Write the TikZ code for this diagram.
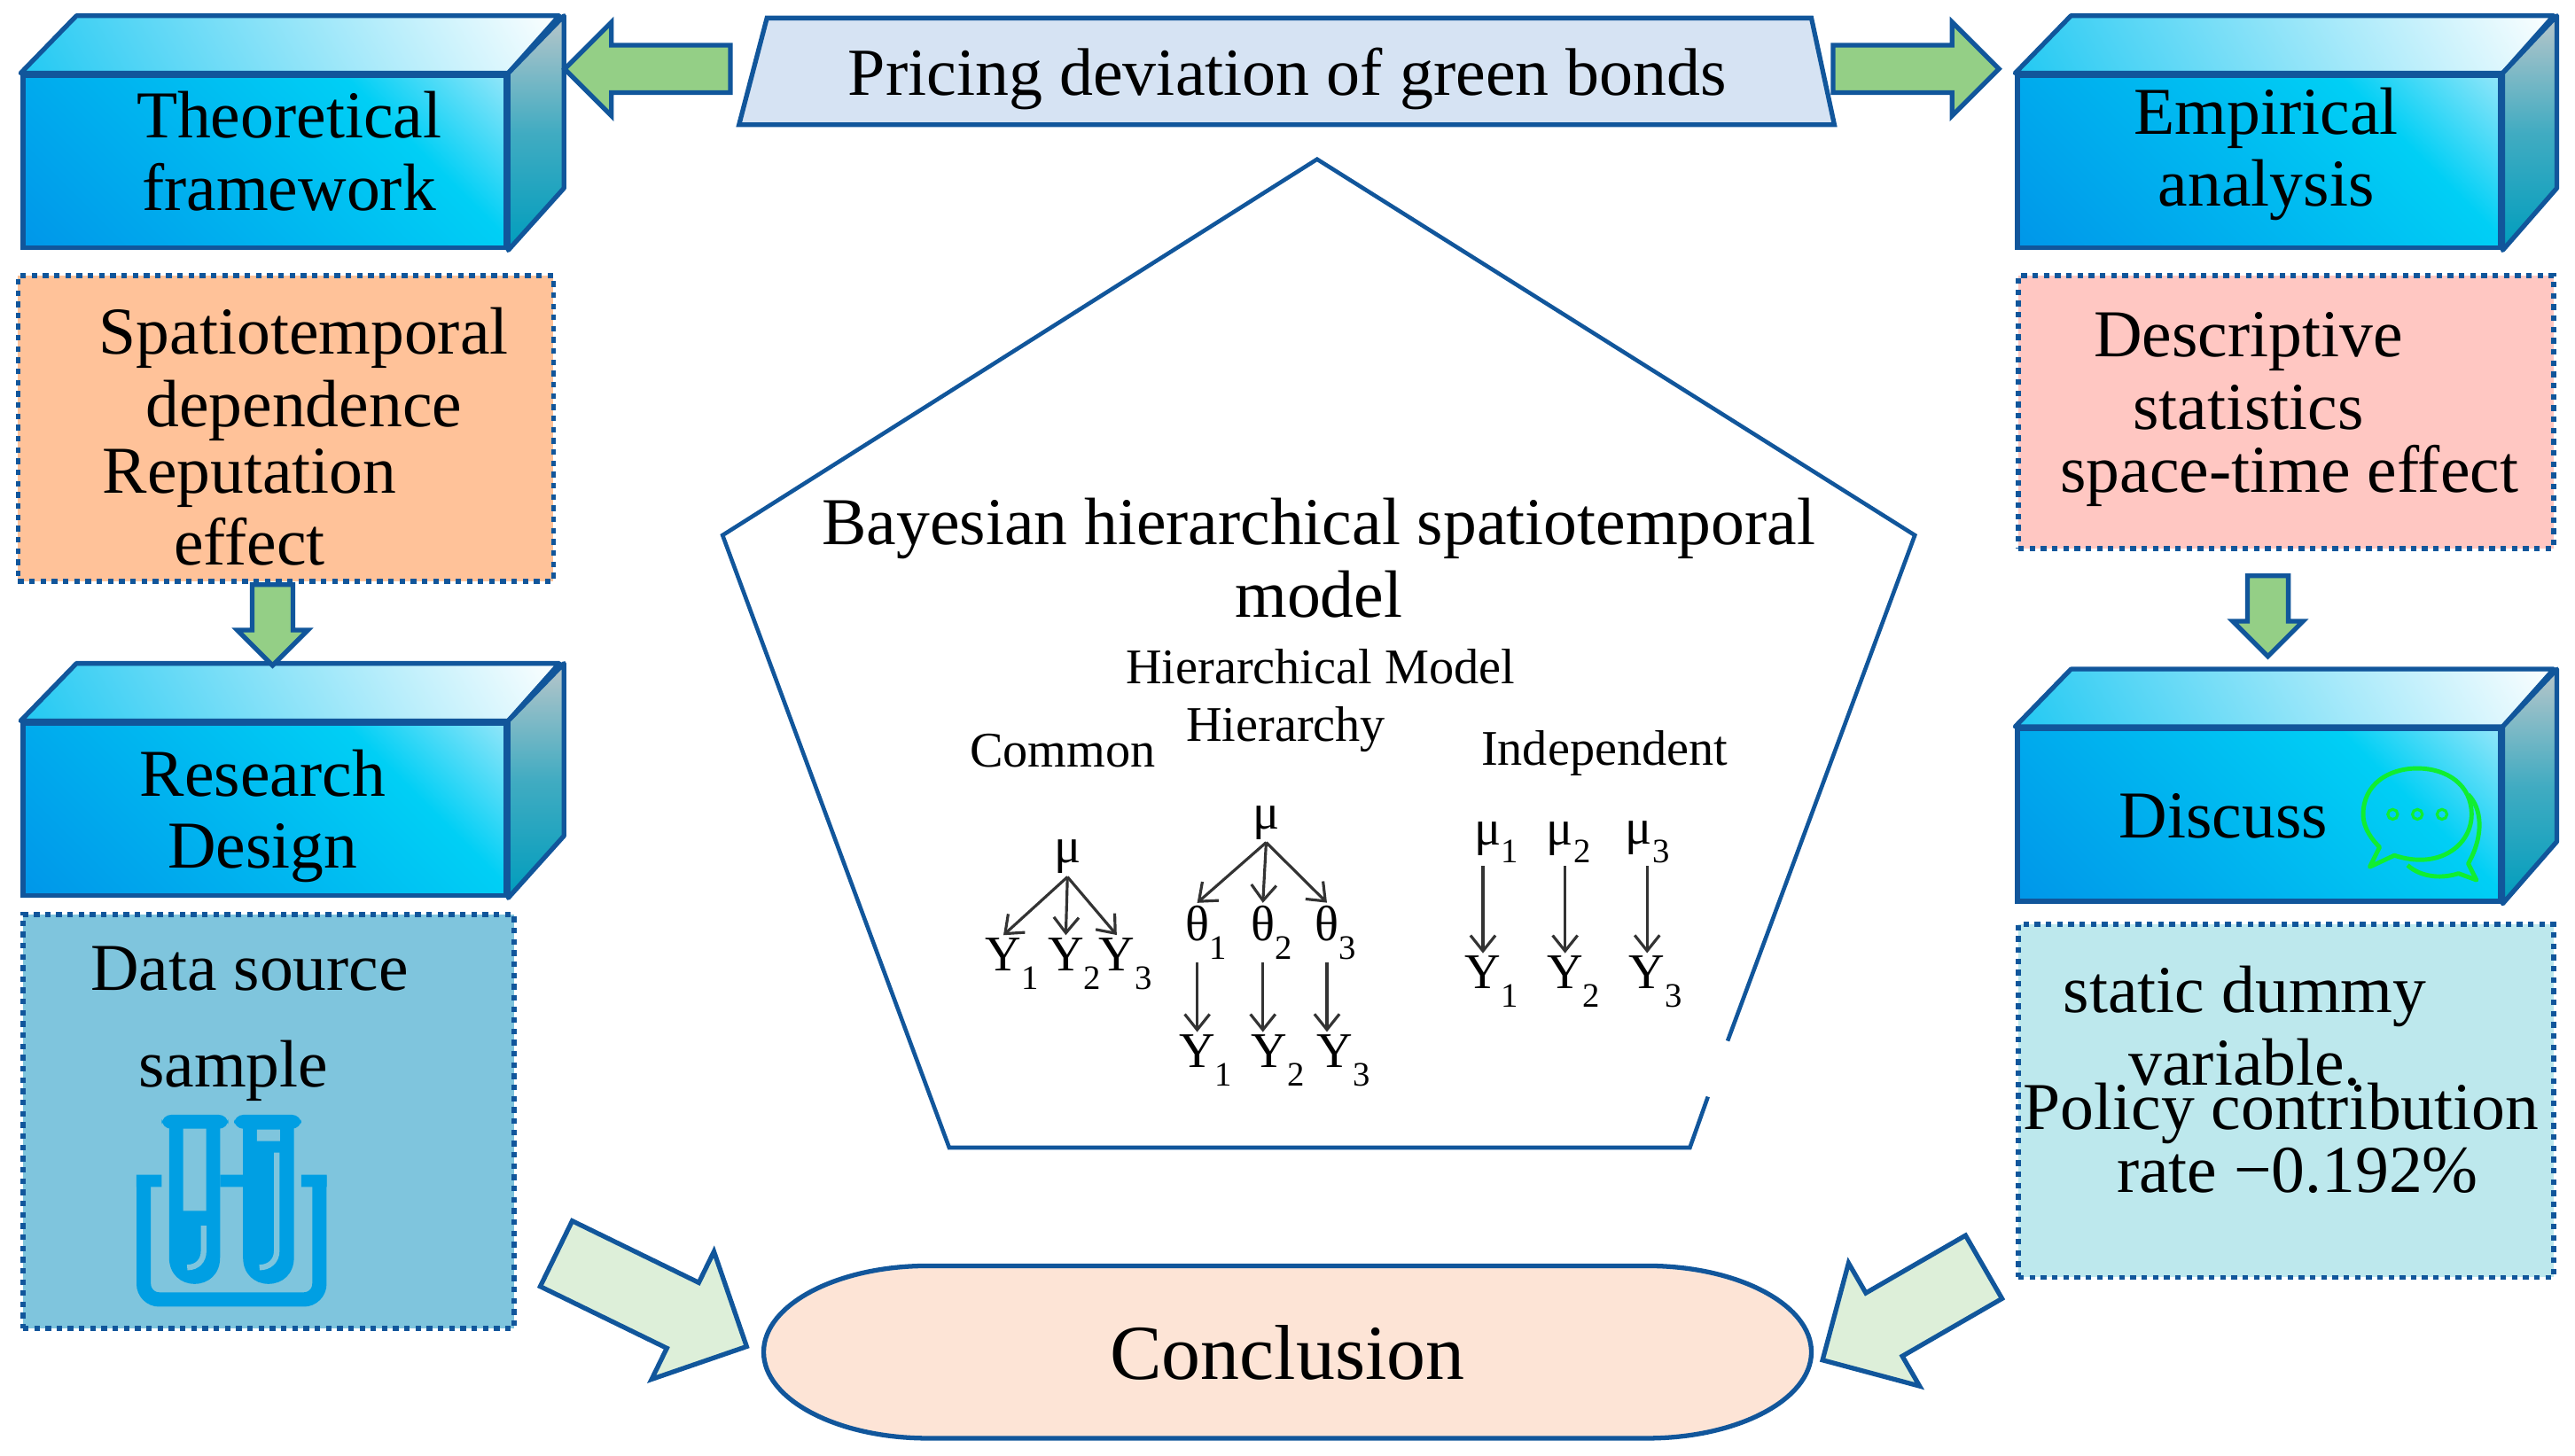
\documentclass[tikz,border=0pt]{standalone}
\usepackage{fontspec}
\setmainfont{Liberation Serif}
\usepackage{tikz}
\usetikzlibrary{arrows.meta,shapes.arrows,positioning,calc}

\definecolor{boxblue}{HTML}{11569B}
\definecolor{arrowgreen}{HTML}{94CF86}
\definecolor{palegreen}{HTML}{DDEFD9}
\definecolor{tubeblue}{HTML}{009FE3}
\definecolor{chatgreen}{HTML}{10EE30}
\definecolor{peach}{HTML}{FFC299}
\definecolor{rosy}{HTML}{FFC7C2}
\definecolor{steelpanel}{HTML}{7FC5DD}
\definecolor{aquapanel}{HTML}{BDE8ED}
\definecolor{bannerfill}{HTML}{D6E3F3}
\definecolor{concfill}{HTML}{FDE4D6}
\definecolor{frontA}{HTML}{0097E9}
\definecolor{frontB}{HTML}{00CFF5}
\definecolor{frontC}{HTML}{C8EEFB}
\definecolor{topA}{HTML}{1FC8F2}
\definecolor{sideA}{HTML}{B8C6CA}
\definecolor{sideB}{HTML}{009DBD}

\pgfdeclarehorizontalshading{frontfill}{100bp}{color(0bp)=(frontA); color(15bp)=(frontA); color(68bp)=(frontB); color(92bp)=(frontC); color(100bp)=(frontC)}
\pgfdeclarehorizontalshading{topfill}{100bp}{color(0bp)=(topA); color(15bp)=(topA); color(85bp)=(white); color(100bp)=(white)}

\newcommand{\subs}[2]{#1\rlap{\raisebox{-0.8ex}{\fontsize{11}{11}\selectfont #2}}}

\begin{document}
\begin{tikzpicture}[
    x=0.018527cm, y=-0.018527cm,
    frontface/.style={draw=boxblue, line width=1.5pt, shading=frontfill, shading angle=45, minimum width=5.447cm, minimum height=1.945cm, inner sep=0pt},
    topface/.style={draw=boxblue, line width=1.5pt, shading=topfill, shading angle=30, line join=round},
    sideface/.style={draw=boxblue, line width=1.5pt, top color=sideA, bottom color=sideB, middle color=sideA!35!sideB, line join=round},
    notebox/.style={draw=boxblue, line width=1.6pt, dash pattern=on 1.8pt off 1.8pt, inner sep=0pt},
    lbl/.style={font=\fontsize{21.5}{23.2}\selectfont, align=center, inner sep=0pt},
    small/.style={font=\fontsize{16}{18}\selectfont, align=center, inner sep=0pt},
    letter/.style={font=\fontsize{16}{18}\selectfont, inner sep=0pt, outer sep=1pt},
    barb/.style={-{Straight Barb[length=5pt,width=8pt]}, black!80, line width=0.9pt},
    blockarrow/.style={single arrow, draw=boxblue, line width=1.5pt, fill=arrowgreen, single arrow tip angle=90, single arrow head indent=0pt, inner sep=0pt, text depth=0pt, line join=miter},
    toparrow/.style={blockarrow, minimum height=1.87cm, text height=0.482cm, single arrow head extend=0.26cm},
    downarrow/.style={blockarrow, rotate=-90, minimum height=0.91cm, text height=0.408cm, single arrow head extend=0.167cm},
    palearrow/.style={blockarrow, fill=palegreen, text height=0.77cm, single arrow head extend=0.39cm},
    outline/.style={draw=boxblue, line width=1.3pt, line join=miter}
]
\useasboundingbox (0,0) rectangle (1568,886.3);

% banner
\draw[outline, line width=1.5pt, fill=bannerfill] (467,11) -- (1103,11) -- (1117,76) -- (450,76) -- cycle;
\node[lbl, font=\fontsize{21.6}{24}\selectfont] (title) at (784,48) {Pricing deviation of green bonds};

% cuboids
\node[frontface] (theory) at (161,98.5) {};
\shade[topface] (theory.north west) -- ++(34,-35) -- ++(294,0) -- (theory.north east) -- cycle;
\shade[sideface] (theory.north east) -- ++(34,-35) -- ++(0,105) -- (theory.south east) -- cycle;
\node[frontface] (empirical) at (1375.5,98.5) {};
\shade[topface] (empirical.north west) -- ++(34,-35) -- ++(294,0) -- (empirical.north east) -- cycle;
\shade[sideface] (empirical.north east) -- ++(33,-35) -- ++(0,105) -- (empirical.south east) -- cycle;
\node[frontface] (research) at (161,493) {};
\shade[topface] (research.north west) -- ++(34,-35) -- ++(294,0) -- (research.north east) -- cycle;
\shade[sideface] (research.north east) -- ++(34,-35) -- ++(0,105) -- (research.south east) -- cycle;
\node[frontface] (discuss) at (1375.5,496.5) {};
\shade[topface] (discuss.north west) -- ++(34,-35) -- ++(294,0) -- (discuss.north east) -- cycle;
\shade[sideface] (discuss.north east) -- ++(33,-35) -- ++(0,105) -- (discuss.south east) -- cycle;

\node[lbl] (theorytxt) at (176,92) {Theoretical\\framework};
\node[lbl] (empiricaltxt) at (1380,94) {Empirical\\analysis};
\node[lbl] (researchtxt) at (160,497) {Research\\Design};
\node[lbl] (discusstxt) at (1354,497) {Discuss};

% dotted panels
\node[notebox, fill=peach, minimum width=6.04cm, minimum height=3.446cm] (depend) at (174,261) {};
\node[notebox, fill=rosy, minimum width=6.04cm, minimum height=3.075cm] (descr) at (1392,251) {};
\node[notebox, fill=steelpanel, minimum width=5.54cm, minimum height=4.669cm] (data) at (163.5,683) {};
\node[notebox, fill=aquapanel, minimum width=6.04cm, minimum height=3.983cm] (policy) at (1392,670.5) {};

\node[lbl] (spatiotxt) at (185,228) {Spatiotemporal\\dependence};
\node[lbl] (reputxt) at (152,309) {Reputation\\effect};
\node[lbl] (descrtxt) at (1369,226) {Descriptive\\statistics};
\node[lbl] (spacetxt) at (1394,290) {space-time effect};
\node[lbl] (datatxt) at (152,590) {Data source};
\node[lbl] (sampletxt) at (142,652) {sample};
\node[lbl] (dummytxt) at (1367,625) {static dummy\\variable.};
\node[lbl] (policytxt) at (1389,678) {Policy contribution};
\node[lbl] (ratetxt) at (1399,713) {rate −0.192\%};

% block arrows
\node[toparrow, rotate=180] (toTheory) at (401.5,42) {};
\node[toparrow] (toEmpirical) at (1159.5,42) {};
\node[downarrow] (toResearch) at (166,374.5) {};
\node[downarrow] (toDiscuss) at (1381,369) {};
\node[palearrow, rotate=-26, minimum height=2.39cm] (leftConc) at (386.7,787) {};
\node[palearrow, rotate=210, minimum height=2.1cm] (rightConc) at (1168.5,794.5) {};

% pentagon
\draw[outline] (1040,668) -- (1029,699) -- (578,699) -- (440,326) -- (802,97) -- (1166,326) -- (1052,634);
\node[lbl] (bayes) at (803,340) {Bayesian hierarchical spatiotemporal\\model};
\node[small] (hmodel) at (804,406) {Hierarchical Model};
\node[small] (common) at (647,457) {Common};
\node[small] (hierarchy) at (783,444) {Hierarchy};
\node[small] (indep) at (977,459) {Independent};

% common
\node[letter] (cmu) at (650,522) {μ};
\node[letter] (cy1) at (611,587) {\subs{Y}{1}};
\node[letter] (cy2) at (649,587) {\subs{Y}{2}};
\node[letter] (cy3) at (680,587) {\subs{Y}{3}};
\draw[barb] (cmu.south) -- (cy1.north);
\draw[barb] (cmu.south) -- (cy2.north);
\draw[barb] (cmu.south) -- (cy3.north);

% hierarchy
\node[letter] (hmu) at (771,501) {μ};
\node[letter] (t1) at (729,568) {\subs{θ}{1}};
\node[letter] (t2) at (769,568) {\subs{θ}{2}};
\node[letter] (t3) at (808,568) {\subs{θ}{3}};
\node[letter] (hy1) at (729,646) {\subs{Y}{1}};
\node[letter] (hy2) at (773,646) {\subs{Y}{2}};
\node[letter] (hy3) at (813,646) {\subs{Y}{3}};
\draw[barb] (hmu.south) -- (t1.north);
\draw[barb] (hmu.south) -- (t2.north);
\draw[barb] (hmu.south) -- (t3.north);
\draw[barb] (t1.south) -- (t1.south |- hy1.north);
\draw[barb] (t2.south) -- (t2.south |- hy2.north);
\draw[barb] (t3.south) -- (t3.south |- hy3.north);

% independent
\node[letter] (m1) at (906,513) {\subs{μ}{1}};
\node[letter] (m2) at (950,513) {\subs{μ}{2}};
\node[letter] (m3) at (998,513) {\subs{μ}{3}};
\node[letter] (iy1) at (903,598) {\subs{Y}{1}};
\node[letter] (iy2) at (953,598) {\subs{Y}{2}};
\node[letter] (iy3) at (1003,598) {\subs{Y}{3}};
\draw[barb] (m1.south -| iy1) -- (iy1.north);
\draw[barb] (m2.south -| iy2) -- (iy2.north);
\draw[barb] (m3.south -| iy3) -- (iy3.north);

% conclusion
\draw[outline, line width=1.5pt, fill=concfill] (565,771) -- (1003,771) .. controls (1058,771) and (1103,794.5) .. (1103,823.5) .. controls (1103,852.5) and (1058,876) .. (1003,876) -- (565,876) .. controls (510,876) and (465,852.5) .. (465,823.5) .. controls (465,794.5) and (510,771) .. (565,771) -- cycle;
\node[lbl, font=\fontsize{25}{27}\selectfont] (conclusion) at (784,824) {Conclusion};

% test tubes
\draw[tubeblue, line width=4.6pt, rounded corners=5pt] (87.5,716) -- (87.5,791.5) -- (194.5,791.5) -- (194.5,716);
\fill[tubeblue] (83,715.5) rectangle (98.5,723) (183.5,715.5) rectangle (199,723) (134,715.5) rectangle (148,723);
\fill[tubeblue] (103,684) -- (134,684) -- (134,766) .. controls (134,776) and (127,782) .. (118.5,782) .. controls (110,782) and (103,776) .. (103,766) -- cycle;
\fill[tubeblue] (148,684) -- (179,684) -- (179,766) .. controls (179,776) and (172,782) .. (163.5,782) .. controls (155,782) and (148,776) .. (148,766) -- cycle;
\fill[tubeblue, rounded corners=3pt] (98.5,679) rectangle (139,687.5) (142.5,679) rectangle (183.5,687.5);
\fill[steelpanel] (111.5,687.5) rectangle (125.5,737.5) (156.5,688) rectangle (170.5,695);
\draw[steelpanel, line width=1.8pt] (124,746.5) -- (124,762) .. controls (124,768) and (120,772) .. (114,772);
\draw[steelpanel, line width=1.8pt] (168.5,702) -- (168.5,762) .. controls (168.5,768) and (164,772) .. (158,772);

% chat bubbles
\draw[chatgreen, line width=1.4pt, line join=round] (1443,528) -- (1458,521) .. controls (1485,530) and (1505,515) .. (1505,496) .. controls (1505,478) and (1490,468) .. (1472,468) .. controls (1454,468) and (1439,478) .. (1439,496) .. controls (1439,505) and (1445,512) .. (1449,516) -- cycle;
\draw[chatgreen, line width=1.4pt, line join=round] (1503,484) .. controls (1511,492) and (1513,508) .. (1503,526) -- (1508,536) -- (1497,532) .. controls (1488,535) and (1475,535) .. (1466,527);
\draw[chatgreen, line width=0.9pt] (1457,496) circle (1.6pt) (1472,496) circle (1.6pt) (1487,496) circle (1.6pt);
\end{tikzpicture}
\end{document}
